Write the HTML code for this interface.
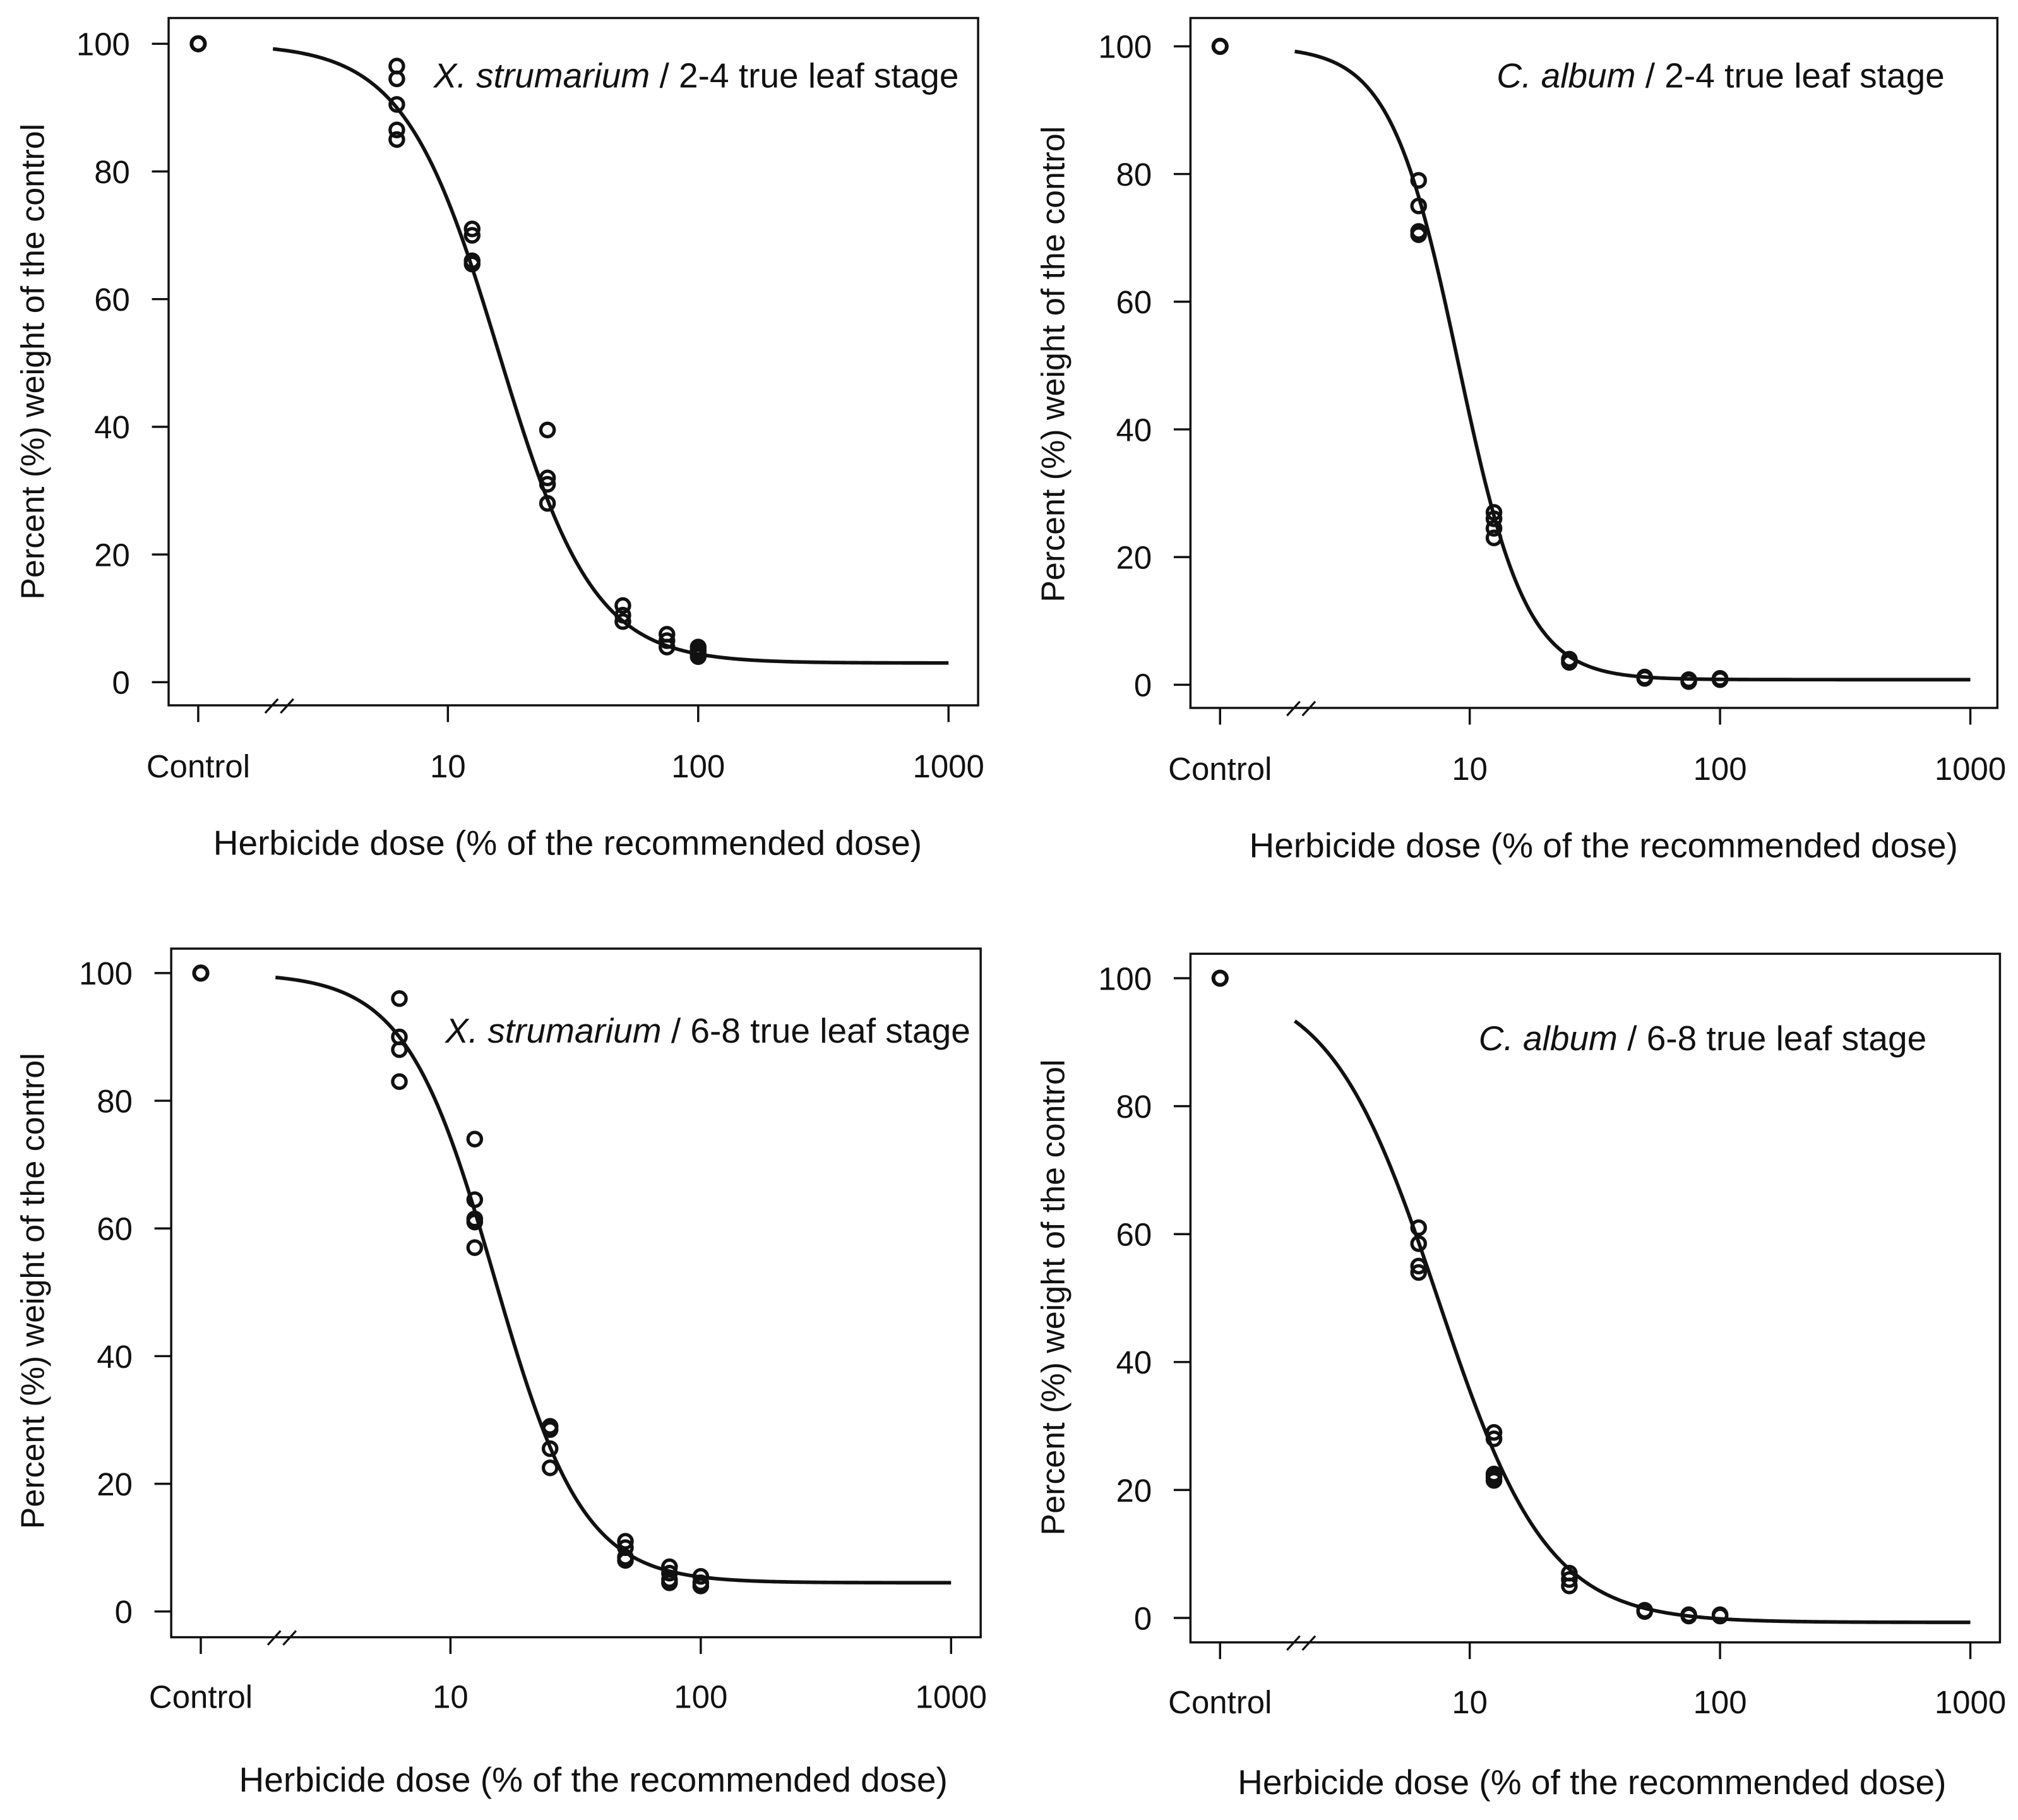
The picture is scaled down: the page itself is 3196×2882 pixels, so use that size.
<!DOCTYPE html>
<html><head><meta charset="utf-8"><style>
html,body{margin:0;padding:0;background:#fff}
svg{display:block}
text{font-family:"Liberation Sans",sans-serif;fill:#111}
</style></head><body>
<svg id="chart" width="3196" height="2882" viewBox="0 0 1568 1414" xmlns="http://www.w3.org/2000/svg"></svg>
<script>
// tick labels
const yTicks = [0,20,40,60,80,100];
const xTickLabels = ["Control","10","100","1000"];
const xTickDoses = [null,10,100,1000];
const doseLevels = [6.25,12.5,25,50,75,100];

// panel titles
const speciesNames = ["X. strumarium","C. album","X. strumarium","C. album"];
const stageNames = ["2-4 true leaf stage","2-4 true leaf stage","6-8 true leaf stage","6-8 true leaf stage"];

// control values per panel
const controlVals = [[100,100,100,100],[100,100,100,100],[100,100,100,100],[100,100,100,100]];
// observed values per dose (6.25,12.5,25,50,75,100)
const xs24 = [[96.5,94.5,90.5,86.5,85],[71,70,66,65.5],[39.5,32,31,28],[12,10.5,9.5],[7.5,6.5,5.5],[5.5,5,4,4.5]];
const ca24 = [[79,75,71,70.5],[27,26,24.5,23],[4,3.5],[1.2,1],[0.8,0.5],[1,0.8]];
const xs68 = [[96,90,88,83],[74,64.5,61,61.5,57],[29,28.5,25.5,22.5],[11,10,8.5,8],[7,6,5,4.5],[5.5,4.5,4]];
const ca68 = [[61,58.5,55,54],[29,28,22.5,22,21.5],[7,6,5],[1,1.2],[0.5,0.3],[0.5,0.3]];
const panelData = [xs24,ca24,xs68,ca68];

// fitted log-logistic model parameters: lower c, upper d, slope b, ED50 e
const fitC = [3,0.8,4.5,-0.7];
const fitD = [100,100,100,100];
const fitB = [2.3,3.2,2.45,2.0];
const fitE = [16,9,15,7.5];

const layout = [
 {L:131,T:14,R:760,B:548,y0:530,y100:34,xc:154,x10:348,dec:194.5,lab:595,tit:655,tcx:441,ylx:25,ylc:281,tx:745,ty:67},
 {L:925,T:14,R:1552,B:550,y0:532,y100:36,xc:948,x10:1142,dec:194.5,lab:597,tit:657,tcx:1246,ylx:818,ylc:283,tx:1511,ty:67},
 {L:133,T:737,R:762,B:1272,y0:1252,y100:756,xc:156,x10:350,dec:194.5,lab:1318,tit:1383,tcx:461,ylx:25,ylc:1003,tx:754,ty:809},
 {L:925,T:741,R:1554,B:1276,y0:1257,y100:760,xc:948,x10:1142,dec:194.5,lab:1322,tit:1385,tcx:1237,ylx:818,ylc:1008,tx:1497,ty:815}
];
const NS="http://www.w3.org/2000/svg";
const svg=document.getElementById('chart');
function mk(tag,attrs,parent){const e=document.createElementNS(NS,tag);for(const k in attrs)e.setAttribute(k,attrs[k]);(parent||svg).appendChild(e);return e;}

layout.forEach((p,i)=>{
  const g=mk('g',{});
  
  
  const yS=v=>p.y0+(p.y100-p.y0)*v/100;
  const xS=d=>p.x10+p.dec*(Math.log10(d)-1);
  const box=mk('rect',{x:p.L,y:p.T,width:p.R-p.L,height:p.B-p.T,fill:'none',stroke:'#111','stroke-width':1.7},g);
  
  
  yTicks.forEach(v=>{
    const y=yS(v);
    mk('line',{x1:p.L,x2:p.L-13,y1:y,y2:y,stroke:'#111','stroke-width':1.7},g);
    const t=mk('text',{x:p.L-30,y:y+9,'font-size':25,'text-anchor':'end'},g);
    t.textContent=v;
    
    
  });
  xTickLabels.forEach((lab,k)=>{
    const x=xTickDoses[k]===null?p.xc:xS(xTickDoses[k]);
    mk('line',{x1:x,x2:x,y1:p.B,y2:p.B+13,stroke:'#111','stroke-width':1.7},g);
    const t=mk('text',{x:x,y:p.lab+9,'font-size':25,'text-anchor':'middle'},g);
    t.textContent=lab;
    
    
  });
  const bx=p.xc+60;
  mk('line',{x1:bx-8,y1:p.B+6,x2:bx+2,y2:p.B-5,stroke:'#111','stroke-width':1.6},g);
  mk('line',{x1:bx+4,y1:p.B+6,x2:bx+14,y2:p.B-5,stroke:'#111','stroke-width':1.6},g);
  const xt=mk('text',{x:p.tcx,y:p.tit+9,'font-size':27,'text-anchor':'middle'},g);
  xt.textContent='Herbicide dose (% of the recommended dose)';
  
  
  const yc=p.ylc;
  const yt=mk('text',{x:p.ylx,y:yc,'font-size':25.5,'text-anchor':'middle',transform:`rotate(-90 ${p.ylx} ${yc}) translate(0 9)`},g);
  yt.textContent='Percent (%) weight of the control';
  
  
  const an=mk('text',{x:p.tx,y:p.ty+1,'font-size':27,'text-anchor':'end'},g);
  
  
  const it=mk('tspan',{'font-style':'italic'},an);it.textContent=speciesNames[i];
  const rt=mk('tspan',{},an);rt.textContent=' / '+stageNames[i];
  const f=d=>fitC[i]+(fitD[i]-fitC[i])/(1+Math.pow(d/fitE[i],fitB[i]));
  let dstr='';
  for(let s=0;s<=300;s++){const ld=Math.log10(2)+(3-Math.log10(2))*s/300;const d=Math.pow(10,ld);dstr+=(s?'L':'M')+xS(d).toFixed(2)+','+yS(f(d)).toFixed(2);}
  const cv=mk('path',{d:dstr,fill:'none',stroke:'#111','stroke-width':2.8},g);
  
  
  controlVals[i].forEach(v=>{
    const c=mk('circle',{cx:p.xc,cy:yS(v),r:5.2,fill:'none',stroke:'#111','stroke-width':2.8},g);
    
    
  });
  panelData[i].forEach((vals,k)=>{
    vals.forEach(v=>{
      const c=mk('circle',{cx:xS(doseLevels[k]),cy:yS(v),r:5.2,fill:'none',stroke:'#111','stroke-width':2.6},g);
      
      
    });
  });
});
</script>
</body></html>
